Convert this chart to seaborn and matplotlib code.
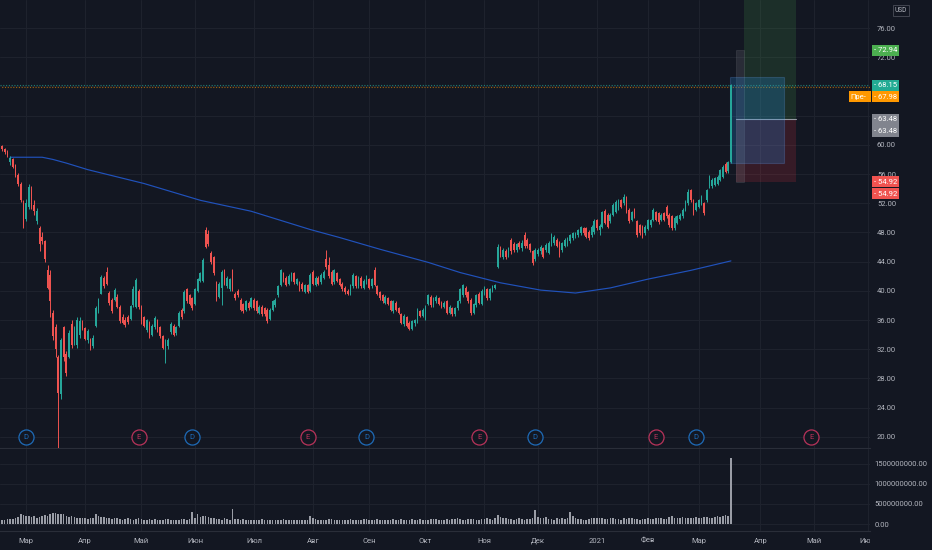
import numpy as np
import matplotlib
matplotlib.use("Agg")
import matplotlib.pyplot as plt
import seaborn as sns
from matplotlib.patches import Rectangle
from matplotlib.transforms import blended_transform_factory, Bbox, TransformedBbox

# ---------------- data (daily bars, index 0 = 18 Feb 2020) ----------------
opens = [
    59.8, 59.4, 59.0, 57.6, 58.0, 57.2, 55.8, 54.6, 52.0, 49.8,
    51.5, 54.0, 51.8, 49.6, 48.6, 47.4, 46.8, 42.8, 42.2, 37.0,
    35.0, 30.9, 25.8, 35.0, 31.4, 31.0, 35.5, 32.9, 32.6, 34.0,
    35.6, 34.9, 33.2, 33.4, 32.4, 35.2, 37.2, 39.6, 41.8, 42.6,
    39.7, 38.8, 38.8, 39.2, 37.8, 36.4, 36.0, 36.4, 36.2, 38.0,
    37.8, 40.0, 37.8, 36.4, 34.6, 35.6, 34.0, 35.0, 36.0, 35.0,
    33.8, 31.0, 32.4, 34.3, 35.2, 34.2, 35.2, 37.4, 37.2, 40.2,
    39.4, 39.0, 38.2, 40.0, 41.4, 41.4, 48.4, 47.8, 45.2, 44.6,
    41.2, 39.2, 40.4, 42.8, 40.6, 40.2, 42.8, 39.6, 40.0, 38.8,
    38.2, 37.4, 38.4, 37.8, 38.8, 38.6, 37.0, 37.8, 37.6, 37.4,
    36.2, 37.4, 38.0, 39.4, 40.8, 42.4, 41.8, 41.0, 41.6, 42.4,
    41.0, 41.2, 41.0, 39.9, 40.8, 40.0, 42.6, 40.8, 41.8, 41.2,
    41.8, 44.4, 43.6, 42.6, 41.2, 42.4, 41.6, 41.0, 40.4, 40.0,
    39.6, 40.6, 42.0, 40.6, 41.8, 40.4, 41.2, 41.6, 40.6, 42.8,
    40.6, 39.8, 39.4, 38.4, 39.0, 38.6, 37.2, 38.4, 37.6, 36.8,
    35.4, 36.4, 35.6, 34.8, 35.6, 35.8, 37.2, 36.6, 36.2, 38.2,
    39.2, 38.0, 38.6, 39.0, 38.4, 37.8, 38.6, 37.0, 37.6, 36.8,
    37.6, 38.6, 39.4, 40.4, 39.8, 38.8, 37.0, 38.0, 39.6, 38.2,
    39.6, 40.2, 39.0, 40.0, 40.4, 43.3, 46.0, 44.6, 45.4, 44.9,
    47.0, 46.4, 45.6, 46.6, 45.8, 47.6, 47.0, 46.4, 45.4, 44.4,
    45.0, 45.4, 45.8, 45.6, 45.2, 46.3, 46.6, 47.0, 46.6, 45.6,
    46.2, 46.4, 46.8, 47.2, 47.5, 47.6, 47.9, 48.6, 48.6, 48.1,
    47.6, 48.0, 49.7, 48.3, 48.8, 51.0, 50.4, 49.5, 50.4, 50.8,
    51.3, 52.4, 52.0, 52.9, 51.1, 49.7, 51.1, 49.5, 49.0, 48.8,
    47.9, 48.5, 49.0, 49.7, 50.8, 50.6, 49.7, 50.6, 51.5, 50.4,
    50.2, 48.6, 49.3, 49.9, 50.2, 51.1, 52.0, 53.8, 52.4, 51.1,
    51.5, 52.0, 52.0, 52.4, 54.3, 54.3, 54.5, 54.7, 55.2, 55.6,
    57.4, 56.4, 57.7,
]
closes = [
    59.4, 59.0, 58.6, 58.2, 57.0, 55.9, 54.7, 52.5, 49.0, 52.0,
    54.2, 51.6, 50.9, 51.0, 46.4, 46.8, 44.4, 40.4, 38.6, 33.8,
    32.0, 26.0, 33.2, 31.0, 28.8, 34.2, 32.6, 34.9, 36.0, 35.8,
    34.9, 33.4, 34.5, 32.2, 33.6, 37.6, 38.8, 41.9, 40.6, 41.0,
    38.3, 37.2, 40.1, 37.8, 35.8, 35.6, 35.3, 35.7, 37.9, 40.2,
    41.5, 37.8, 35.8, 35.2, 36.0, 33.8, 35.2, 36.3, 34.6, 33.8,
    32.2, 33.2, 33.2, 35.5, 34.0, 35.0, 37.0, 36.4, 39.9, 38.6,
    38.2, 37.6, 40.2, 41.6, 42.4, 44.2, 46.0, 46.4, 43.9, 42.4,
    38.8, 41.0, 42.6, 41.0, 41.8, 41.6, 40.2, 39.0, 39.4, 37.4,
    37.2, 38.6, 37.6, 39.0, 37.6, 37.2, 37.8, 36.8, 36.8, 35.8,
    37.4, 38.6, 38.8, 40.6, 42.8, 41.4, 40.8, 42.1, 42.4, 41.2,
    41.6, 40.2, 40.2, 40.8, 39.9, 42.2, 41.0, 41.8, 41.0, 42.2,
    42.6, 43.2, 42.0, 41.0, 42.8, 41.4, 40.8, 40.2, 39.8, 39.6,
    40.8, 42.2, 40.6, 41.8, 40.6, 41.4, 42.0, 40.4, 41.6, 40.8,
    39.6, 39.0, 38.6, 39.2, 38.2, 37.4, 38.6, 37.4, 37.0, 35.6,
    36.6, 35.2, 34.8, 35.8, 36.0, 37.4, 36.6, 37.4, 37.8, 39.4,
    38.0, 39.0, 39.2, 38.2, 37.8, 38.4, 37.0, 37.8, 36.8, 37.6,
    38.6, 40.2, 40.8, 39.4, 38.6, 37.0, 38.2, 39.4, 38.4, 40.0,
    40.4, 39.0, 40.2, 40.6, 40.8, 46.0, 44.9, 45.6, 44.6, 45.8,
    45.4, 45.6, 46.4, 46.0, 46.6, 46.2, 46.2, 45.6, 43.8, 45.6,
    45.6, 46.0, 44.7, 46.3, 46.5, 47.6, 47.4, 46.2, 44.9, 46.5,
    47.0, 47.2, 47.6, 47.9, 47.9, 48.3, 48.7, 47.9, 47.4, 47.2,
    48.8, 49.5, 48.6, 48.9, 50.8, 49.3, 48.8, 50.4, 51.8, 52.2,
    52.4, 51.5, 52.9, 50.8, 49.5, 50.8, 50.2, 47.6, 47.9, 47.4,
    48.8, 49.7, 49.7, 51.1, 49.7, 49.4, 50.4, 49.7, 50.2, 49.0,
    48.6, 50.0, 50.2, 50.4, 51.1, 52.2, 53.6, 52.4, 50.6, 52.0,
    52.4, 52.9, 50.6, 53.8, 55.6, 55.2, 55.4, 55.6, 56.5, 57.0,
    56.3, 57.6, 68.15,
]
highs = [
    60.0, 59.6, 59.3, 58.5, 58.2, 57.4, 56.2, 54.9, 52.4, 52.6,
    54.6, 54.4, 52.4, 51.4, 48.9, 48.0, 47.0, 43.5, 42.8, 37.4,
    35.5, 31.2, 33.6, 35.2, 31.8, 34.6, 36.0, 35.2, 36.4, 36.4,
    36.0, 35.0, 34.8, 33.6, 34.0, 37.9, 39.0, 42.2, 42.0, 43.3,
    40.0, 39.0, 40.4, 39.6, 38.0, 36.8, 36.4, 36.7, 38.1, 40.6,
    41.8, 40.3, 38.0, 36.6, 36.2, 35.8, 35.4, 36.5, 36.2, 35.2,
    34.0, 33.4, 33.5, 35.7, 35.4, 35.2, 37.2, 37.6, 40.1, 40.4,
    39.6, 39.2, 40.4, 41.8, 42.6, 44.5, 48.8, 48.4, 45.4, 44.8,
    41.4, 41.2, 42.8, 43.0, 42.0, 41.8, 43.0, 39.8, 40.2, 39.0,
    38.4, 38.8, 38.6, 39.2, 39.0, 38.8, 38.0, 38.0, 37.8, 37.6,
    37.6, 38.8, 39.0, 40.8, 43.0, 42.6, 42.0, 42.3, 42.6, 42.6,
    41.8, 41.4, 41.2, 41.0, 41.0, 42.4, 42.8, 42.0, 42.0, 42.4,
    42.8, 45.6, 44.7, 42.8, 43.0, 42.6, 41.8, 41.2, 40.6, 40.2,
    41.0, 42.4, 42.2, 42.0, 42.0, 41.6, 42.2, 41.8, 41.8, 43.2,
    40.8, 40.0, 39.6, 39.4, 39.2, 38.8, 38.8, 38.6, 37.8, 37.0,
    36.8, 36.6, 35.8, 36.0, 36.2, 37.6, 37.4, 37.6, 38.0, 39.6,
    39.4, 39.2, 39.4, 39.2, 38.6, 38.6, 38.8, 38.0, 37.8, 37.8,
    38.8, 40.4, 41.0, 40.6, 40.0, 39.0, 38.4, 39.6, 39.8, 40.2,
    40.6, 40.4, 40.4, 40.8, 41.0, 46.4, 46.2, 45.9, 45.7, 46.0,
    47.3, 46.7, 46.6, 46.8, 46.9, 48.0, 47.3, 46.6, 45.6, 45.8,
    45.9, 46.3, 46.0, 46.5, 46.8, 47.9, 47.6, 47.2, 46.8, 46.7,
    47.2, 47.4, 47.8, 48.1, 48.1, 48.5, 48.9, 48.8, 48.8, 48.3,
    49.0, 49.8, 49.9, 49.1, 51.0, 51.2, 50.6, 50.6, 52.0, 52.4,
    52.6, 52.6, 53.2, 53.0, 51.3, 51.0, 51.3, 49.7, 49.2, 49.0,
    49.0, 49.9, 49.9, 51.3, 51.0, 50.8, 50.6, 50.8, 51.7, 50.6,
    50.4, 50.2, 50.4, 50.6, 51.3, 52.4, 53.9, 54.0, 52.6, 52.2,
    52.6, 53.1, 52.2, 54.0, 55.9, 55.4, 55.6, 55.8, 56.7, 57.2,
    57.6, 57.8, 68.3,
]
lows = [
    59.1, 58.7, 58.3, 57.2, 56.8, 55.6, 54.4, 52.2, 48.6, 49.5,
    51.2, 51.2, 50.4, 49.2, 45.4, 46.4, 44.0, 40.2, 36.4, 33.2,
    30.9, 17.0, 25.2, 30.4, 28.4, 30.8, 32.2, 32.6, 32.2, 33.6,
    34.6, 33.2, 32.9, 31.9, 32.2, 35.0, 37.0, 39.5, 40.4, 40.8,
    38.1, 37.0, 38.6, 37.6, 35.6, 35.4, 35.0, 35.5, 36.0, 37.8,
    37.6, 37.5, 35.5, 35.0, 34.4, 33.6, 33.8, 34.8, 34.4, 33.6,
    32.0, 30.1, 32.1, 34.1, 33.8, 34.0, 35.0, 36.2, 37.0, 38.4,
    38.0, 37.4, 38.0, 39.8, 41.2, 41.2, 45.8, 46.2, 43.7, 42.2,
    38.6, 39.0, 38.0, 40.8, 40.4, 40.0, 40.0, 38.8, 39.2, 37.2,
    37.0, 37.2, 37.4, 37.6, 37.4, 37.0, 36.8, 36.6, 36.6, 35.6,
    36.0, 37.2, 37.8, 39.2, 40.6, 41.2, 40.6, 40.8, 41.4, 41.0,
    40.8, 40.0, 40.0, 39.7, 39.7, 39.8, 40.8, 40.6, 40.8, 41.0,
    41.6, 43.0, 41.8, 40.8, 41.0, 41.2, 40.6, 40.0, 39.6, 39.4,
    39.4, 40.4, 40.4, 40.4, 40.4, 40.2, 41.0, 40.2, 40.4, 40.6,
    39.4, 38.8, 38.4, 38.2, 38.0, 37.2, 37.0, 37.2, 36.8, 35.4,
    35.2, 35.0, 34.6, 34.6, 35.2, 35.6, 36.4, 36.4, 36.0, 38.0,
    37.8, 37.8, 38.4, 38.0, 37.6, 37.6, 36.8, 36.8, 36.6, 36.6,
    37.4, 38.4, 39.2, 39.2, 38.4, 36.7, 36.8, 37.8, 38.2, 38.0,
    39.4, 38.8, 38.8, 39.8, 40.2, 43.1, 44.6, 44.3, 44.3, 44.6,
    45.1, 45.3, 45.3, 45.7, 45.5, 45.9, 45.9, 45.3, 43.6, 44.1,
    44.8, 45.1, 44.5, 45.3, 45.0, 46.1, 46.3, 46.0, 44.7, 45.3,
    46.0, 46.2, 46.6, 47.0, 47.3, 47.4, 47.7, 47.7, 47.2, 47.0,
    47.4, 47.8, 48.4, 47.6, 48.6, 49.1, 48.6, 49.3, 50.2, 50.6,
    51.1, 51.3, 51.8, 50.6, 49.3, 49.5, 50.0, 47.4, 47.7, 47.2,
    47.7, 48.3, 48.8, 49.5, 49.5, 49.2, 49.5, 49.5, 50.0, 48.8,
    48.4, 48.4, 49.1, 49.7, 50.0, 50.9, 51.8, 52.2, 50.4, 50.9,
    51.3, 51.8, 50.4, 52.2, 54.1, 54.1, 54.3, 54.5, 55.0, 55.4,
    56.1, 56.2, 57.5,
]
# volume in millions of shares
volumes_m = [
    110, 105, 115, 120, 130, 140, 180, 260, 220,
    200, 210, 170, 190, 160, 180, 200, 230, 210, 250, 270, 280, 260, 250, 240, 200, 180, 190, 170, 160, 150, 140,
    150, 130, 140, 160, 240, 200, 180, 170, 150, 140, 130, 160, 150, 120, 110, 130, 140, 120, 110, 130, 140,
    120, 110, 100, 115, 110, 120, 100, 105, 110, 130, 120, 110, 100, 110, 105, 115, 120, 110, 120, 290,
    150, 260, 180, 200, 190, 170, 150, 140, 130, 120, 110, 140, 120, 110, 370, 130, 120, 110, 115, 110, 105, 100,
    110, 100, 105, 115, 110, 100, 95, 110, 105, 100, 110, 115, 100, 105, 110, 100, 95, 105, 110, 100, 110, 200,
    150, 120, 110, 105, 100, 110, 130, 115, 100, 105, 110, 100, 95, 110, 115, 100, 105, 110, 100, 115, 130,
    110, 100, 105, 115, 110, 100, 95, 110, 105, 120, 110, 100, 115, 110, 100, 105, 120, 110, 100, 115, 110,
    105, 110, 115, 130, 120, 110, 100, 105, 115, 110, 120, 130, 140, 120, 110, 100, 115, 120, 130, 110, 100, 120,
    130, 140, 120, 110, 150, 230, 180, 150, 140, 130, 120, 110, 130, 140, 120, 110, 130, 120, 140, 350,
    180, 150, 140, 170, 130, 120, 110, 150, 130, 160, 120, 140, 310, 200, 150, 130, 120, 110, 100, 130, 140, 150,
    160, 150, 140, 130, 120, 150, 140, 130, 120, 110, 140, 130, 150, 140, 120, 130, 110, 120, 130,
    140, 130, 120, 150, 160, 140, 130, 120, 180, 190, 160, 150, 140, 170, 160, 150, 140, 160, 170,
    150, 160, 170, 180, 160, 150, 170, 200, 180, 190, 230, 210, 1650,
]
# 200-day moving average (bar index, value)
ma_index = [3, 15, 19, 24, 32, 53, 74, 93, 115, 126, 141, 159, 171, 186, 201, 214, 227, 241, 257, 272]
ma_value = [58.3, 58.3, 58.0, 57.5, 56.6, 54.7, 52.4, 50.9, 48.4, 47.3, 45.7, 43.9, 42.5, 41.1, 40.1, 39.7, 40.4, 41.6, 42.8, 44.1]

month_index = [9, 31, 52, 72, 94, 116, 137, 158, 180, 200, 222, 241, 260, 283, 303, 323]
month_labels = ["Мар", "Апр", "Май", "Июн", "Июл", "Авг", "Сен", "Окт", "Ноя", "Дек",
                "2021", "Фев", "Мар", "Апр", "Май", "Июн"]
dividend_index = [9, 71, 136, 199, 259]
earnings_index = [51, 114, 178, 244, 302]

price_ticks = list(range(20, 77, 4))
hidden_ticks = [64, 68]          # covered by the price labels
volume_ticks = [0, 500000000, 1000000000, 1500000000]

# position tool / drawings (price levels)
target_price = 72.94
entry_price = 63.48
stop_price = 54.92
last_price = 68.15
pre_price = 67.98
rect_low, rect_high = 57.55, 69.25

# ---------------- style ----------------
BG = "#131722"
GRID = "#1e222d"
TXT = "#b2b5be"
UP = "#26a69a"
DN = "#ef5350"

sns.set_theme(style="dark", rc={
    "figure.facecolor": BG, "axes.facecolor": BG, "savefig.facecolor": BG,
    "axes.edgecolor": "#2a2e39", "grid.color": GRID, "text.color": TXT,
    "xtick.color": TXT, "ytick.color": TXT,
})
plt.rcParams["font.family"] = ["Roboto", "DejaVu Sans"]

W, H = 932, 550
fig = plt.figure(figsize=(W / 100, H / 100), dpi=100)
PR = 870 / W
axp = fig.add_axes([0, 1 - 448 / H, PR, 448 / H])
axv = fig.add_axes([0, 1 - 531 / H, PR, 82 / H], sharex=axp)

n = min(len(opens), len(closes), len(highs), len(lows), len(volumes_m))
idx = np.arange(n)
o = np.array(opens[:n]); c = np.array(closes[:n])
hi = np.array(highs[:n]); lo = np.array(lows[:n])
up = c >= o
cols = np.where(up, UP, DN)

for ax in (axp, axv):
    ax.set_facecolor(BG)
    ax.grid(True, color=GRID, lw=0.8)
    for s in ("top", "left", "right"):
        ax.spines[s].set_visible(False)
    ax.spines["bottom"].set_color("#2a2e39")
    ax.spines["bottom"].set_linewidth(0.8)

# candles
axp.vlines(idx, lo, hi, colors=cols, lw=0.7, zorder=3)
body_lo = np.minimum(o, c)
body_h = np.maximum(np.abs(c - o), 0.08)
axp.bar(idx, body_h, bottom=body_lo, width=0.64, color=cols, lw=0, zorder=3)

# moving average
sns.lineplot(x=ma_index, y=ma_value, ax=axp, color="#2155c4", lw=0.85, alpha=0.95,
             legend=False, zorder=2)

# last / pre-market price lines
axp.axhline(last_price, color="#22ab94", lw=0.8, ls=(0, (1, 1.5)), alpha=0.7, zorder=1)
axp.axhline(pre_price, color="#ff9800", lw=0.8, ls=(1, (1, 1.5)), alpha=0.6, zorder=1)

# position tool drawings
x_left, x_mid, x_right = 273.9, 276.9, 296.3
axp.add_patch(Rectangle((x_mid, entry_price), x_right - x_mid, 30, fc="#4caf50", alpha=0.16, lw=0, zorder=1))
axp.add_patch(Rectangle((x_left, stop_price), x_right - x_left, entry_price - stop_price,
                        fc="#f23645", alpha=0.16, lw=0, zorder=1))
axp.add_patch(Rectangle((x_left, stop_price), x_mid - x_left, target_price - stop_price,
                        fc="#787b86", alpha=0.22, ec="#9598a1", lw=0.5, zorder=1))
axp.plot([x_left, x_right], [entry_price, entry_price], color="#9598a1", lw=0.8, zorder=1)
axp.add_patch(Rectangle((271.6, rect_low), 20.2, rect_high - rect_low, fc="#2196f3", alpha=0.22,
                        ec="#6aa7f8", lw=0.8, zorder=1.5))

# event markers
tb = blended_transform_factory(axp.transData, axp.transAxes)
for xs, letter, col in ((dividend_index, "D", "#1e6bb8"), (earnings_index, "E", "#b8335a")):
    axp.scatter(xs, [0.0245] * len(xs), s=118, facecolor=BG, edgecolor=col, lw=0.9,
                transform=tb, zorder=6, clip_on=False)
    for xv in xs:
        axp.text(xv, 0.0245, letter, transform=tb, ha="center", va="center",
                 fontsize=5.5, color=col, zorder=7)

# volume
vol = np.array(volumes_m[:n], dtype=float) * 1e6
axv.bar(idx, vol, width=0.6, color="#9a9da6", lw=0, zorder=3)

# axes limits / ticks
axp.set_xlim(-0.75, 323.9)
axp.set_ylim(18.47, 79.84)
axv.set_ylim(-0.172e9, 1.867e9)

axp.yaxis.tick_right()
axp.set_yticks(price_ticks)
axp.set_yticklabels(["" if t in hidden_ticks else f"{t:.2f}" for t in price_ticks])
axp.tick_params(axis="y", length=0, pad=5, labelsize=5.5, labelcolor=TXT)
axp.tick_params(axis="x", length=0, labelbottom=False)
axp.set_xticks(month_index)

axv.yaxis.tick_right()
axv.set_yticks(volume_ticks)
axv.set_yticklabels([f"{t:.2f}" for t in volume_ticks])
axv.tick_params(axis="y", length=0, pad=3.5, labelsize=5.5, labelcolor=TXT)
axv.set_xticks(month_index)
axv.set_xticklabels(month_labels)
axv.tick_params(axis="x", length=0, pad=5, labelsize=5.5, labelcolor=TXT)
clip = TransformedBbox(Bbox([[0, 0], [PR, 1]]), fig.transFigure)
for lbl in axv.get_xticklabels():
    lbl.set_clip_on(True)
    lbl.set_clip_box(clip)


# price labels on right axis
def ypx(price):
    return 28 + (76 - price) * 7.30


def side_label(yc, text, fc, x0=872, w=27):
    fig.patches.append(Rectangle((x0 / W, 1 - (yc + 5.6) / H), w / W, 11.2 / H,
                                 transform=fig.transFigure, fc=fc, ec="none", zorder=5))
    fig.text((x0 + 1.5) / W, 1 - yc / H, text, ha="left", va="center", fontsize=5.5,
             color="white", zorder=6)


side_label(ypx(target_price), "- " + f"{target_price:.2f}", "#4caf50")
side_label(ypx(last_price), "- " + f"{last_price:.2f}", "#22ab94")
side_label(ypx(last_price) + 11.4, "- " + f"{pre_price:.2f}", "#ff9800")
side_label(ypx(last_price) + 11.4, "Пре-", "#ff9800", x0=848.5, w=22.5)
side_label(ypx(entry_price), "- " + f"{entry_price:.2f}", "#81848e")
side_label(ypx(entry_price) + 11.7, "- " + f"{entry_price:.2f}", "#81848e")
side_label(ypx(stop_price), "- " + f"{stop_price:.2f}", "#f05350")
side_label(ypx(stop_price) + 11.7, "- " + f"{stop_price:.2f}", "#f05350")

# USD box
fig.patches.append(Rectangle((892.5 / W, 1 - 16 / H), 16 / W, 11 / H, transform=fig.transFigure,
                             fc=BG, ec="#434651", lw=0.7, zorder=5))
fig.text(900.5 / W, 1 - 10.5 / H, "USD", ha="center", va="center", fontsize=4.8, color=TXT, zorder=6)

fig.savefig("out.png", dpi=100, facecolor=BG)
